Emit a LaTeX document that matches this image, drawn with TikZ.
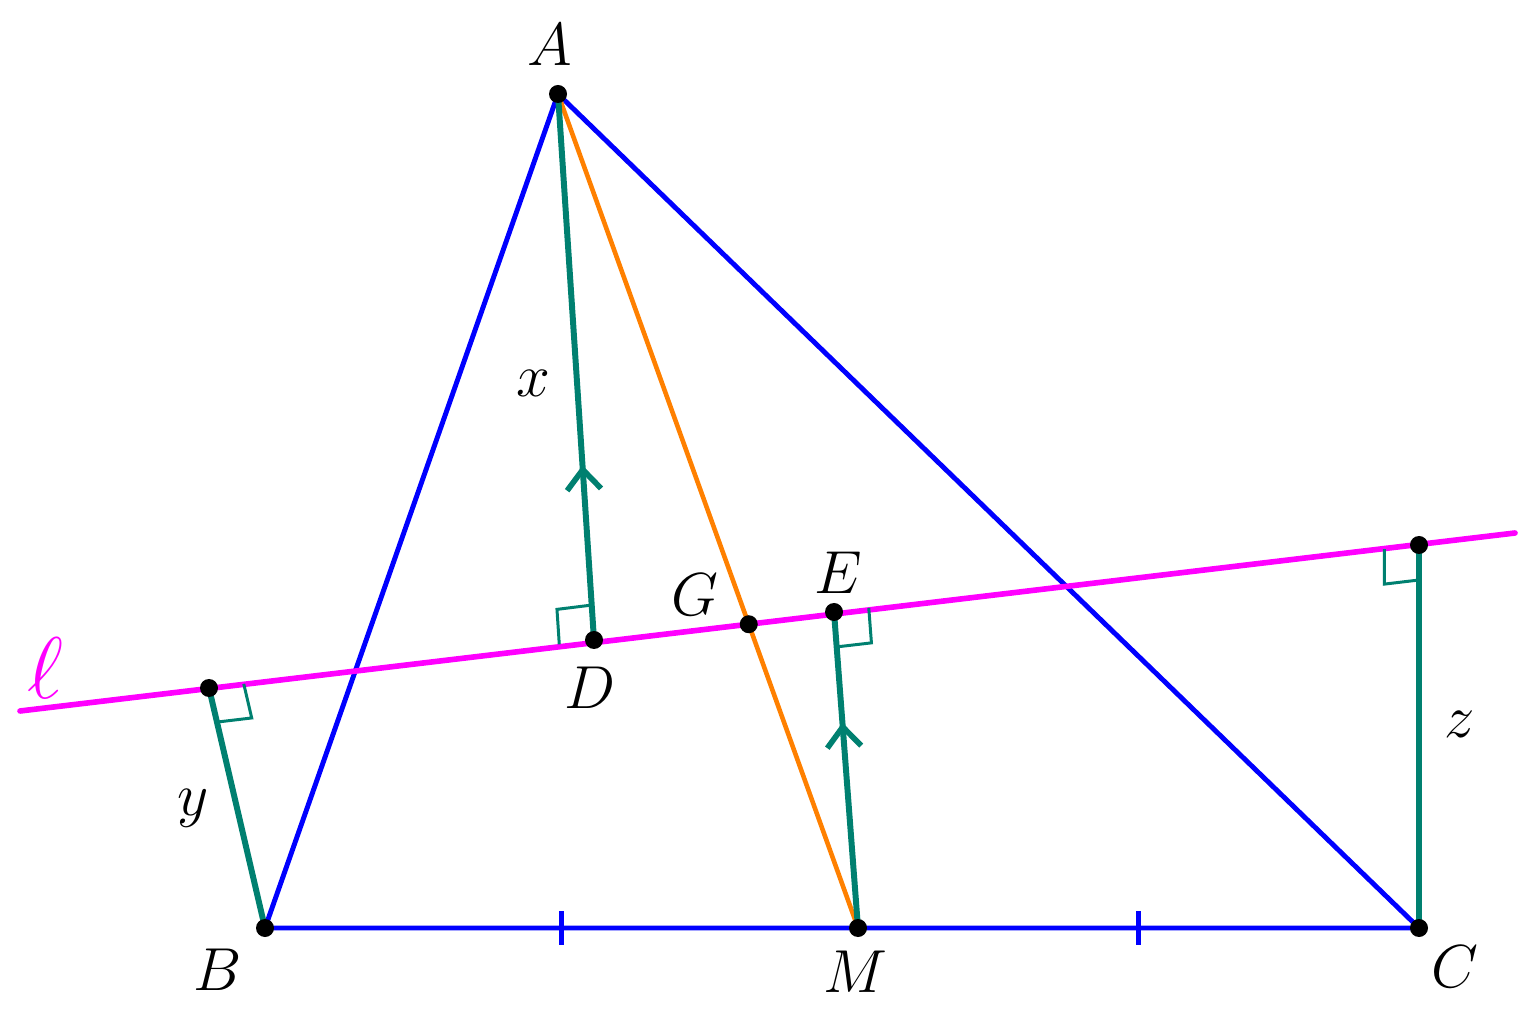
\documentclass[tikz,border=0pt]{standalone}
\usepackage{amsmath}
\usetikzlibrary{calc, arrows.meta, decorations.markings}

\definecolor{segteal}{RGB}{0,128,112}
\definecolor{medorange}{RGB}{255,128,0}
\definecolor{linemag}{RGB}{255,0,255}

% right angle mark at #1, sides towards #2 and #3
\newcommand{\perpmark}[3]{%
	\path ($(#1)!0.35cm!(#2)$) coordinate (ra) ($(#1)!0.35cm!(#3)$) coordinate (rb);
	\draw[rmark] (ra) -- ($(ra) + (rb) - (#1)$) -- (rb);
}

\begin{document}
\begin{tikzpicture}[> = latex,
	side/.style = {draw = blue, line width = 1.4pt},
	median/.style = {draw = medorange, line width = 1.3pt},
	seg/.style = {draw = segteal, line width = 1.7pt},
	rmark/.style = {draw = segteal, line width = 0.85pt},
	lline/.style = {draw = linemag, line width = 1.6pt, line cap = round},
	midarrow/.style = {postaction = {decorate}, decoration = {markings,
		mark = at position #1 with {\arrow[segteal, line width = 1.6pt]{Straight Barb[length = 2mm, width = 3.4mm]}}}},
	lbl/.style = {font = \fontsize{16.5}{18}\selectfont}]

	\useasboundingbox (0, 0) rectangle (15.34, 10.25);

	% Points

	\coordinate (A) at (5.58, 9.31);
	\coordinate (B) at (2.65, 0.97);
	\coordinate (C) at (14.19, 0.97);
	\coordinate (M) at (8.58, 0.97);
	\coordinate (L1) at (0.20, 3.14);
	\coordinate (L2) at (15.15, 4.92);
	\coordinate (D) at (5.94, 3.85);
	\coordinate (E) at (8.34, 4.13);
	\coordinate (fB) at (2.09, 3.37);
	\coordinate (fC) at (14.19, 4.80);
	\coordinate (G) at (intersection of A--M and L1--L2);

	% Triangle, ticks and median

	\draw[side] (A) -- (B) -- (C) -- cycle;
	\coordinate (tBM) at ($(B)!0.5!(M)$);
	\coordinate (tMC) at ($(M)!0.5!(C)$);
	\draw[side] ($(tBM) + (0, 0.17)$) -- ($(tBM) - (0, 0.17)$);
	\draw[side] ($(tMC) + (0, 0.17)$) -- ($(tMC) - (0, 0.17)$);
	\draw[median] (A) -- (M);

	% Line l

	\draw[lline] (L1) -- (L2);

	% Distances to l

	\draw[seg, midarrow = 0.32] (D) -- (A);
	\draw[seg, midarrow = 0.65] (M) -- (E);
	\draw[seg] (B) -- (fB);
	\draw[seg] (C) -- (fC);

	\perpmark{D}{L1}{A}
	\perpmark{E}{L2}{M}
	\perpmark{fB}{L2}{B}
	\perpmark{fC}{L1}{C}

	% Dots

	\foreach \p in {A, B, C, M, D, E, G, fB, fC}
		\fill (\p) circle (0.09);

	% Labels

	\node[lbl] (lA) at (5.50, 9.80) {$A$};
	\node[lbl] (lB) at (2.18, 0.55) {$B$};
	\node[lbl] (lC) at (14.55, 0.58) {$C$};
	\node[lbl] (lM) at (8.55, 0.53) {$M$};
	\node[lbl] (lD) at (5.90, 3.37) {$D$};
	\node[lbl] (lG) at (6.95, 4.30) {$G$};
	\node[lbl] (lE) at (8.38, 4.52) {$E$};
	\node[lbl] (lx) at (5.33, 6.42) {$x$};
	\node[lbl] (ly) at (1.93, 2.17) {$y$};
	\node[lbl] (lz) at (14.60, 3.01) {$z$};
	\node[linemag, font = \fontsize{24}{26}\selectfont] (ll) at (0.45, 3.57) {$\ell$};

\end{tikzpicture}
\end{document}
